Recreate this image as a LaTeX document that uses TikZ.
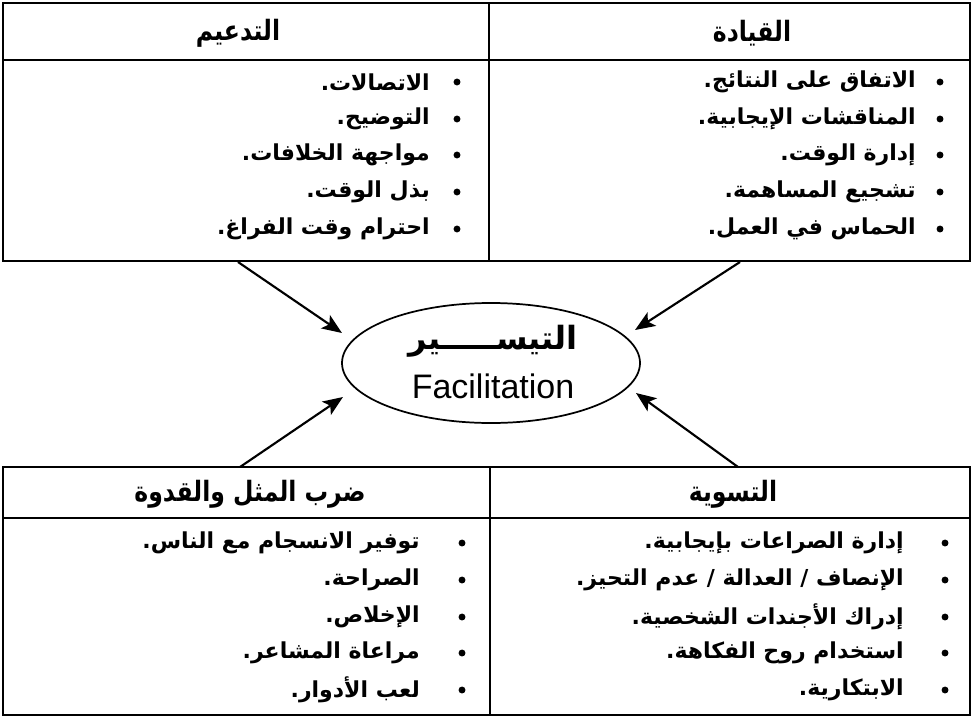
\documentclass[tikz,border=0pt]{standalone}
\usepackage{fontspec}
\usetikzlibrary{arrows.meta,shapes.geometric}
\TeXXeTstate=1
\newfontfamily\arabicfont[Script=Arabic]{DejaVu Sans}
\newfontfamily\arabichdr[Script=Arabic,FakeStretch=0.84]{DejaVu Sans}
\setsansfont{Liberation Sans}
\newcommand{\AR}[1]{\beginR #1\endR}
\begin{document}
\begin{tikzpicture}[x=0.75pt,y=-0.75pt,
  frame/.style={line width=1.3pt},
  hdr/.style={font=\arabichdr\bfseries\fontsize{21}{25}\selectfont, inner sep=0},
  itm/.style={font=\arabicfont\bfseries\fontsize{16.5}{20}\selectfont, anchor=east, inner sep=0},
  bul/.style={fill=black},
  arr/.style={line width=1.6pt, -{Stealth[length=15pt,width=12pt,inset=3.5pt]}}
]
\useasboundingbox (0,0) rectangle (973,717);
% top boxes
\draw[frame] (3,3) rectangle (489,261);
\draw[frame] (489,3) rectangle (970,261);
\draw[frame] (3,60) -- (970,60);
% bottom boxes
\draw[frame] (3,467) rectangle (490,715);
\draw[frame] (490,467) rectangle (970,715);
\draw[frame] (3,518) -- (970,518);

% headers
\node[hdr] (hTL) at (238,33) {\AR{التدعيم}};
\node[hdr] (hTR) at (752,33) {\AR{القيادة}};
\node[hdr] (hBL) at (250,494) {\AR{ضرب المثل والقدوة}};
\node[hdr] (hBR) at (733,494) {\AR{التسوية}};

% top-left items
\foreach \y in {82,119,155,192,229} \fill[bul] (457,\y) circle (2.6pt);
\node[itm] (tl1) at (430,82) {\AR{الاتصالات.}};
\node[itm] (tl2) at (430,119) {\AR{التوضيح.}};
\node[itm] (tl3) at (430,155) {\AR{مواجهة الخلافات.}};
\node[itm] (tl4) at (430,192) {\AR{بذل الوقت.}};
\node[itm] (tl5) at (430,229) {\AR{احترام وقت الفراغ.}};

% top-right items
\foreach \y in {82,119,155,192,229} \fill[bul] (940,\y) circle (2.6pt);
\node[itm] (tr1) at (916,82) {\AR{الاتفاق على النتائج.}};
\node[itm] (tr2) at (916,119) {\AR{المناقشات الإيجابية.}};
\node[itm] (tr3) at (916,155) {\AR{إدارة الوقت.}};
\node[itm] (tr4) at (916,192) {\AR{تشجيع المساهمة.}};
\node[itm] (tr5) at (916,229) {\AR{الحماس في العمل.}};

% bottom-left items
\foreach \y in {543,580,617,653,690} \fill[bul] (462,\y) circle (2.6pt);
\node[itm] (bl1) at (420,543) {\AR{توفير الانسجام مع الناس.}};
\node[itm] (bl2) at (420,580) {\AR{الصراحة.}};
\node[itm] (bl3) at (420,617) {\AR{الإخلاص.}};
\node[itm] (bl4) at (420,653) {\AR{مراعاة المشاعر.}};
\node[itm] (bl5) at (420,690) {\AR{لعب الأدوار.}};

% bottom-right items
\foreach \y in {543,580,617,653,690} \fill[bul] (945,\y) circle (2.6pt);
\node[itm] (br1) at (904,543) {\AR{إدارة الصراعات بإيجابية.}};
\node[itm] (br2) at (904,580) {\AR{الإنصاف / العدالة / عدم التحيز.}};
\node[itm] (br3) at (904,617) {\AR{إدراك الأجندات الشخصية.}};
\node[itm] (br4) at (904,653) {\AR{استخدام روح الفكاهة.}};
\node[itm] (br5) at (904,690) {\AR{الابتكارية.}};

% centre
\node[draw, ellipse, line width=1.3pt, minimum width=223.5pt, minimum height=90pt] (fac) at (491,363) {};
\node[font=\arabicfont\bfseries\fontsize{24}{28}\selectfont, inner sep=0] (facar) at (493,341) {\AR{التيســـــير}};
\node[font=\sffamily\fontsize{25.5}{30}\selectfont, inner sep=0] (facen) at (493,386) {Facilitation};

% arrows
\coordinate (sTL) at (238,262);
\coordinate (eTL) at (342,333);
\coordinate (sTR) at (740,262);
\coordinate (eTR) at (635,330);
\coordinate (sBL) at (240,467);
\coordinate (eBL) at (343,397);
\coordinate (sBR) at (738,467);
\coordinate (eBR) at (636,393);
\draw[arr] (sTL) -- (eTL);
\draw[arr] (sTR) -- (eTR);
\draw[arr] (sBL) -- (eBL);
\draw[arr] (sBR) -- (eBR);
\end{tikzpicture}
\end{document}
